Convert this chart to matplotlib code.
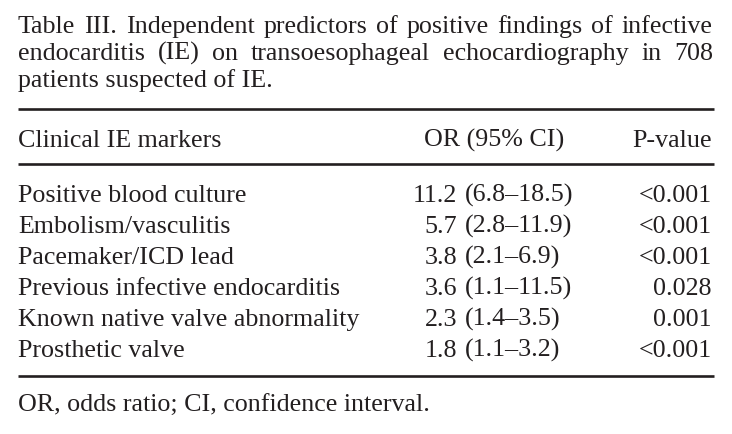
import matplotlib
matplotlib.use("Agg")
import matplotlib.pyplot as plt

# ---- data ----
title_lines = [
    "Table III. Independent predictors of positive findings of infective",
    "endocarditis (IE) on transoesophageal echocardiography in 708",
    "patients suspected of IE.",
]
header = ["Clinical IE markers", "OR (95% CI)", "P-value"]
markers = [
    "Positive blood culture",
    "Embolism/vasculitis",
    "Pacemaker/ICD lead",
    "Previous infective endocarditis",
    "Known native valve abnormality",
    "Prosthetic valve",
]
odds_ratios = ["11.2", "5.7", "3.8", "3.6", "2.3", "1.8"]
conf_intervals = ["6.8–18.5", "2.8–11.9", "2.1–6.9", "1.1–11.5", "1.4–3.5", "1.1–3.2"]
p_values = ["<0.001", "<0.001", "<0.001", "0.028", "0.001", "<0.001"]
footnote = "OR, odds ratio; CI, confidence interval."

# ---- layout ----
W, H = 732, 435
fig = plt.figure(figsize=(W / 100, H / 100), dpi=100)
ax = fig.add_axes([0, 0, 1, 1])
ax.set_xlim(0, W)
ax.set_ylim(H, 0)
ax.axis("off")

FONT = "Liberation Serif"
COL = "#231f20"
FS = 18.7
LEFT, RIGHT = 18, 713

renderer = fig.canvas.get_renderer()

def justified(line, y, fs):
    words = line.split(" ")
    texts = [ax.text(0, y, w, fontsize=fs, family=FONT, color=COL, va="baseline", ha="left") for w in words]
    widths = [t.get_window_extent(renderer).width for t in texts]
    gap = (RIGHT - LEFT - sum(widths)) / (len(words) - 1)
    x = LEFT
    for t, w in zip(texts, widths):
        t.set_x(x)
        x += w + gap

title_y = [33, 60, 87]
for i, (line, y) in enumerate(zip(title_lines, title_y)):
    if i < len(title_lines) - 1:
        justified(line, y, FS)
    else:
        ax.text(LEFT, y, line, fontsize=FS, family=FONT, color=COL, va="baseline", ha="left")

# rules
for yr in [110, 165, 377]:
    ax.plot([LEFT, RIGHT + 1], [yr, yr], color=COL, lw=1.9, solid_capstyle="butt")

# header
hy = 147
ax.text(LEFT, hy, header[0], fontsize=FS, family=FONT, color=COL, va="baseline", ha="left")
ax.text(494, hy, header[1], fontsize=FS, family=FONT, color=COL, va="baseline", ha="center")
ax.text(RIGHT - 1, hy, header[2], fontsize=FS, family=FONT, color=COL, va="baseline", ha="right")

# rows
y0, dy = 202, 31
for i, (m, o, c, p) in enumerate(zip(markers, odds_ratios, conf_intervals, p_values)):
    y = y0 + i * dy
    ax.text(LEFT, y, m, fontsize=FS, family=FONT, color=COL, va="baseline", ha="left")
    ax.text(457, y, o, fontsize=FS, family=FONT, color=COL, va="baseline", ha="right")
    ax.text(465, y, f"({c})", fontsize=FS, family=FONT, color=COL, va="baseline", ha="left")
    ax.text(RIGHT - 1, y, p, fontsize=FS, family=FONT, color=COL, va="baseline", ha="right")

ax.text(LEFT, 412, footnote, fontsize=FS, family=FONT, color=COL, va="baseline", ha="left")

fig.savefig("out.png", dpi=100)
